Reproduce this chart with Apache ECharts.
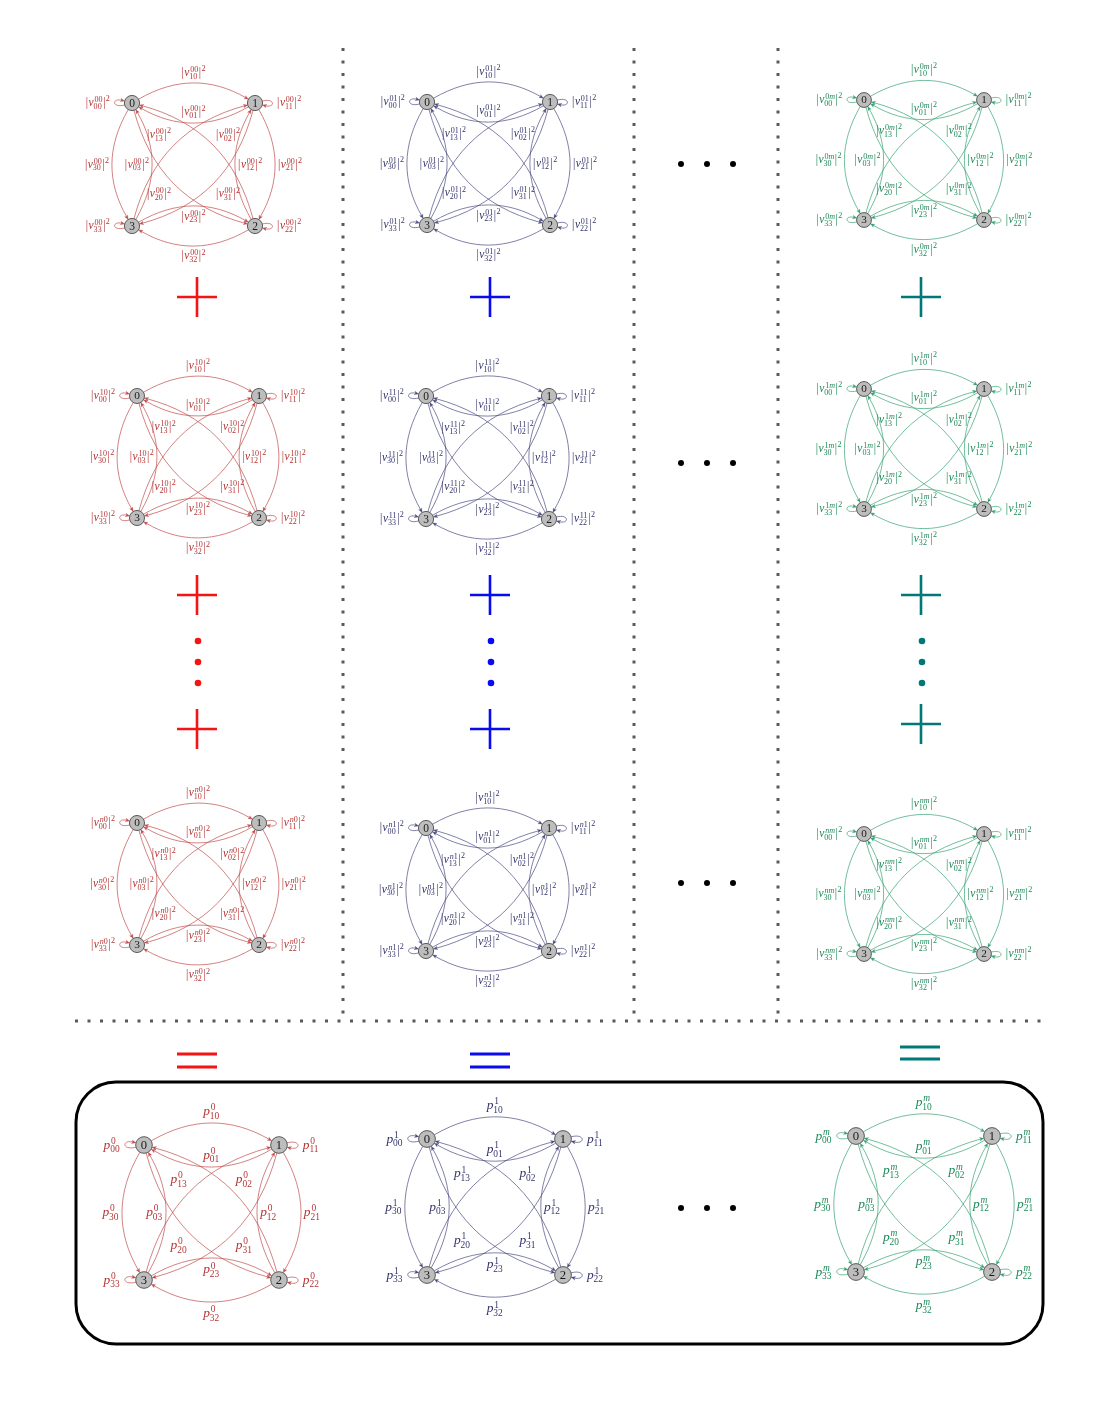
<!DOCTYPE html>
<html>
<head>
<meta charset="utf-8">
<script src="https://cdn.jsdelivr.net/npm/echarts@6/dist/echarts.min.js"></script>
<style>
html,body{margin:0;padding:0;background:#fff;}
#chart{width:1102px;height:1417px;}
</style>
</head>
<body>
<div id="chart"></div>
<script>
// ---------- data ----------
var nodeIds = [0, 1, 2, 3];
var nodeCol = [0, 1, 1, 0];          // x of each state in diagram units
var nodeRow = [1, 1, 0, 0];          // y of each state in diagram units
// directed transitions [from, to]; label index is (to, from)
var edges = [[0,0],[1,1],[2,2],[3,3],
             [0,1],[1,0],[1,2],[2,1],[2,3],[3,2],[0,3],[3,0],
             [0,2],[2,0],[1,3],[3,1]];
// superscripts of every diagram, row by row (red, blue, green columns)
var rowSup = [['00','01','0m'],
              ['10','11','1m'],
              ['n0','n1','nm'],
              ['0','1','m']];
var rowSymbol = ['v', 'v', 'v', 'p'];

// ---------- layout / style ----------
// [left, top, side] of the square spanned by the 4 states
var boxes = [
  [132, 103, 123], [427, 102, 123], [864, 100, 120],
  [137, 396, 122], [426, 396, 123], [864, 389, 120],
  [137, 823, 122], [426, 828, 123], [864, 834, 120],
  [144, 1145, 135], [427, 1139, 136], [856, 1136, 136]
];
var palette = [
  {text: '#b53434', line: '#c24c4c', mark: '#f41414'},
  {text: '#34346c', line: '#4a4a82', mark: '#0a0af0'},
  {text: '#1c8a58', line: '#35a373', mark: '#007878'}
];
var bend = {'0>1':1,'1>2':1,'2>3':1,'0>3':-1,'1>0':1,'2>1':1,'3>2':1,'3>0':-1,
            '0>2':-1,'2>0':-1,'1>3':1,'3>1':1};
var loopSide = ['left', 'right', 'right', 'left'];
var FONT = '"Liberation Serif", "DejaVu Serif", serif';

var measureCtx = document.createElement('canvas').getContext('2d');
function textW(t, size, italic) {
  measureCtx.font = (italic ? 'italic ' : '') + size + 'px ' + FONT;
  return measureCtx.measureText(t).width;
}
function piece(t, x, y, size, italic, color) {
  return {type: 'text', x: x, y: y, silent: true,
    style: {text: t, fontSize: size, fontFamily: FONT, fontStyle: italic ? 'italic' : 'normal',
      fill: color, align: 'left', verticalAlign: 'middle', textAlign: 'left', textVerticalAlign: 'middle'}};
}
function splitRuns(str) {
  var out = [];
  for (var i = 0; i < str.length; i++) {
    var ch = str[i], it = /[a-z]/i.test(ch);
    if (out.length && out[out.length - 1].it === it) out[out.length - 1].t += ch;
    else out.push({t: ch, it: it});
  }
  return out;
}
// |v^{sup}_{sub}|^2  or  p^{sup}_{sub}
function buildLabel(sym, sup, sub, F, color) {
  var S = F * 0.7, items = [], x = 0;
  var supY = -0.27 * F, subY = (sym === 'p' ? 0.36 : 0.33) * F;
  if (sym === 'v') {
    items.push(piece('|', x, 0, F, false, color));
    x += textW('|', F, false) + 0.5;
  }
  items.push(piece(sym, x, 0, F, true, color));
  x += textW(sym, F, true) + 0.4;
  var sx = x, supW = 0;
  splitRuns(sup).forEach(function (r) {
    items.push(piece(r.t, sx + 0.4 + supW, supY, S, r.it, color));
    supW += textW(r.t, S, r.it);
  });
  items.push(piece(sub, sx - 0.5, subY, S, false, color));
  x += Math.max(supW + 0.4, textW(sub, S, false) - 0.5) + 0.6;
  if (sym === 'v') {
    items.push(piece('|', x, 0, F, false, color));
    x += textW('|', F, false) + 0.4;
    items.push(piece('2', x, -0.33 * F, S, false, color));
    x += textW('2', S, false);
  }
  return {items: items, w: x, h: F * 1.3};
}
function dirOf(deg) {
  var t = deg * Math.PI / 180;
  return [Math.cos(t), -Math.sin(t)];
}
function add(p, u, d) { return [p[0] + u[0] * d, p[1] + u[1] * d]; }
function cubicMid(A, C1, C2, B) {
  return [0.125 * A[0] + 0.375 * C1[0] + 0.375 * C2[0] + 0.125 * B[0],
          0.125 * A[1] + 0.375 * C1[1] + 0.375 * C2[1] + 0.125 * B[1]];
}

function makeEdgeRenderer(row, col) {
  var pal = palette[col];
  var sym = rowSymbol[row], sup = rowSup[row][col];
  var F = sym === 'p' ? 13.5 : 11.5;
  return function (params, api) {
    var e = edges[params.dataIndex];
    var a = e[0], b = e[1];
    var pa = api.coord([api.value(0), api.value(1)]);
    var pb = api.coord([api.value(2), api.value(3)]);
    var c0 = api.coord([0.5, 0.5]);
    var k = api.size([1, 1])[0] / 123;
    var r = 7.6 * k;
    var A, B, C1, C2, n, gap;
    if (a === b) {
      var left = loopSide[a] === 'left';
      var uo = dirOf(left ? 195 : 15), ui = dirOf(left ? 165 : -15);
      var D = 13.5 * k;
      A = add(pa, uo, r); B = add(pa, ui, r);
      C1 = add(A, uo, D); C2 = add(B, ui, D);
      n = [left ? -1 : 1, 0];
      gap = 5;
    } else {
      var tx = pb[0] - pa[0], ty = pb[1] - pa[1];
      var L = Math.sqrt(tx * tx + ty * ty);
      tx /= L; ty /= L;
      var s = bend[a + '>' + b];
      var nx = ty * s, ny = -tx * s;
      var cs = Math.cos(Math.PI / 6), sn = Math.sin(Math.PI / 6);
      var uo2 = [cs * tx + sn * nx, cs * ty + sn * ny];
      var ui2 = [-cs * tx + sn * nx, -cs * ty + sn * ny];
      A = add(pa, uo2, r); B = add(pb, ui2, r);
      var dd = 0.3915 * Math.sqrt((B[0] - A[0]) * (B[0] - A[0]) + (B[1] - A[1]) * (B[1] - A[1]));
      C1 = add(A, uo2, dd); C2 = add(B, ui2, dd);
      gap = 3;
    }
    var M = cubicMid(A, C1, C2, B);
    if (a !== b) {
      var mx = M[0] - c0[0], my = M[1] - c0[1], ml = Math.sqrt(mx * mx + my * my) || 1;
      n = [mx / ml, my / ml];
    }
    // arrow head at B
    var ex = B[0] - C2[0], ey = B[1] - C2[1], el = Math.sqrt(ex * ex + ey * ey);
    ex /= el; ey /= el;
    var AL = 4.2, AW = 1.7;
    var base = [B[0] - ex * AL, B[1] - ey * AL];
    var lineEnd = [B[0] - ex * AL * 0.6, B[1] - ey * AL * 0.6];
    var lbl = buildLabel(sym, sup, String(b) + String(a), F, pal.text);
    var ox = Math.abs(n[0]) > 0.38 ? (n[0] > 0 ? 1 : -1) * (lbl.w / 2 + gap) : 0;
    var oy = Math.abs(n[1]) > 0.38 ? (n[1] > 0 ? 1 : -1) * (lbl.h / 2 + gap) : 0;
    return {
      type: 'group',
      children: [
        {type: 'bezierCurve', silent: true,
          shape: {x1: A[0], y1: A[1], cpx1: C1[0], cpy1: C1[1], cpx2: C2[0], cpy2: C2[1],
            x2: lineEnd[0], y2: lineEnd[1]},
          style: {stroke: pal.line, lineWidth: 0.7, fill: null}},
        {type: 'polygon', silent: true,
          shape: {points: [B, [base[0] - ey * AW, base[1] + ex * AW], [base[0] + ex * 1.1, base[1] + ey * 1.1],
            [base[0] + ey * AW, base[1] - ex * AW]]},
          style: {fill: pal.line, stroke: pal.line, lineWidth: 0.3}},
        {type: 'group', x: M[0] + ox - lbl.w / 2, y: M[1] + oy, children: lbl.items}
      ]
    };
  };
}

function makeNodeRenderer() {
  return function (params, api) {
    var p = api.coord([api.value(0), api.value(1)]);
    var k = api.size([1, 1])[0] / 123;
    return {
      type: 'group',
      children: [
        {type: 'circle', silent: true, shape: {cx: p[0], cy: p[1], r: 7.6 * k},
          style: {fill: '#bdbdbd', stroke: '#3a3a3a', lineWidth: 0.8}},
        {type: 'text', silent: true, x: p[0], y: p[1] + 0.5,
          style: {text: String(api.value(2)), fontSize: 11.5 * k, fontFamily: FONT, fill: '#1a1a1a',
            align: 'center', verticalAlign: 'middle', textAlign: 'center', textVerticalAlign: 'middle'}}
      ]
    };
  };
}

var edgeData = edges.map(function (e) {
  return [nodeCol[e[0]], nodeRow[e[0]], nodeCol[e[1]], nodeRow[e[1]]];
});
var nodeData = nodeIds.map(function (i) { return [nodeCol[i], nodeRow[i], i]; });

var grids = [], xAxes = [], yAxes = [], series = [];
for (var i = 0; i < boxes.length; i++) {
  var box = boxes[i];
  var row = Math.floor(i / 3), col = i % 3;
  grids.push({left: box[0], top: box[1], width: box[2], height: box[2], show: false});
  xAxes.push({type: 'value', gridIndex: i, min: 0, max: 1, show: false});
  yAxes.push({type: 'value', gridIndex: i, min: 0, max: 1, show: false});
  series.push({type: 'custom', xAxisIndex: i, yAxisIndex: i, clip: false, silent: true, z: 2,
    encode: {x: [0, 2], y: [1, 3]}, data: edgeData, renderItem: makeEdgeRenderer(row, col)});
  series.push({type: 'custom', xAxisIndex: i, yAxisIndex: i, clip: false, silent: true, z: 3,
    encode: {x: 0, y: 1}, data: nodeData, renderItem: makeNodeRenderer()});
}

// ---------- decorations ----------
var graphics = [];
function dotted(x1, y1, x2, y2) {
  graphics.push({type: 'line', silent: true, shape: {x1: x1, y1: y1, x2: x2, y2: y2},
    style: {stroke: '#5a5a5a', lineWidth: 3, lineDash: [3, 9.5]}});
}
[343, 634, 778].forEach(function (x) { dotted(x, 48, x, 1016); });
dotted(75, 1021, 1044, 1021);

function plus(x, y, color) {
  graphics.push({type: 'line', silent: true, shape: {x1: x - 20, y1: y, x2: x + 20, y2: y}, style: {stroke: color, lineWidth: 2.6}});
  graphics.push({type: 'line', silent: true, shape: {x1: x, y1: y - 20, x2: x, y2: y + 20}, style: {stroke: color, lineWidth: 2.6}});
}
function equals(x, y1, y2, color) {
  graphics.push({type: 'line', silent: true, shape: {x1: x - 20, y1: y1, x2: x + 20, y2: y1}, style: {stroke: color, lineWidth: 3}});
  graphics.push({type: 'line', silent: true, shape: {x1: x - 20, y1: y2, x2: x + 20, y2: y2}, style: {stroke: color, lineWidth: 3}});
}
function dot(x, y, rad, color) {
  graphics.push({type: 'circle', silent: true, shape: {cx: x, cy: y, r: rad}, style: {fill: color}});
}
var markCols = [[197, 297, 595, 729], [490, 297, 595, 729], [921, 297, 595, 724]];
markCols.forEach(function (m, c) {
  var color = palette[c].mark;
  plus(m[0], m[1], color); plus(m[0], m[2], color); plus(m[0], m[3], color);
  [641, 662, 683].forEach(function (y) { dot(m[0] + 1, y, 3.3, color); });
});
equals(197, 1054, 1067, palette[0].mark);
equals(490, 1054, 1067, palette[1].mark);
equals(920, 1047, 1059, palette[2].mark);
[164, 463, 883, 1208].forEach(function (y) {
  [681, 707, 733].forEach(function (x) { dot(x, y, 3, '#000'); });
});
graphics.push({type: 'rect', silent: true, shape: {x: 76, y: 1082, width: 967, height: 262, r: 40},
  style: {fill: null, stroke: '#000', lineWidth: 3}});

var myChart = echarts.init(document.getElementById('chart'));
var option = {
  animation: false,
  backgroundColor: '#fff',
  grid: grids,
  xAxis: xAxes,
  yAxis: yAxes,
  series: series,
  graphic: graphics
};
myChart.setOption(option);
</script>
</body>
</html>
